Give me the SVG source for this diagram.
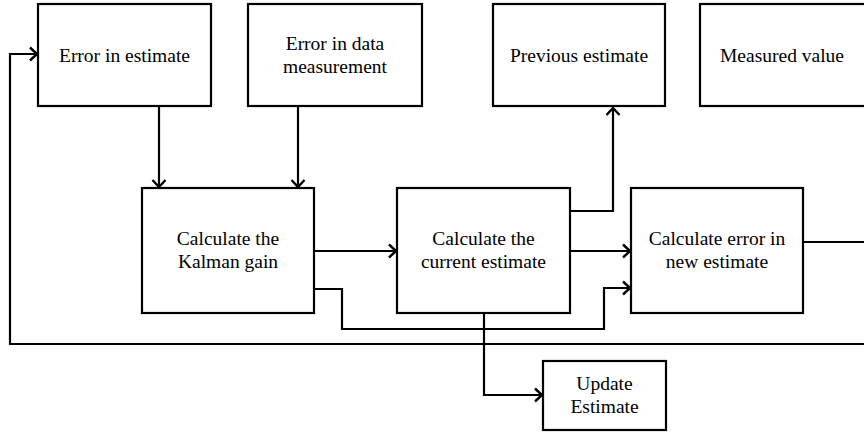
<svg xmlns="http://www.w3.org/2000/svg" width="864" height="435" viewBox="0 0 864 435">
<defs>
<style>
.box{fill:#fff;stroke:#000;stroke-width:2.2}
.t{font-size:19.5px;fill:#000;text-anchor:middle}
.c{fill:none;stroke:#000;stroke-width:2.2}
.a{marker-end:url(#arr)}
</style>
<marker id="arr" markerUnits="userSpaceOnUse" markerWidth="20" markerHeight="20" viewBox="-10 -10 20 20" refX="0" refY="0" orient="auto">
<path d="M-7,-6.5 L0,0 L-7,6.5" fill="none" stroke="#000" stroke-width="2.4"/>
</marker>
</defs>
<rect width="864" height="435" fill="#fff"/>
<g id="connectors">
<path class="c a" d="M159,106 V187"/>
<path class="c a" d="M298,106 V187"/>
<path class="c a" d="M314,251 H396"/>
<path class="c a" d="M314,289 H342 V329 H604 V288 H630"/>
<path class="c a" d="M570,211 H613 V108"/>
<path class="c a" d="M570,251 H630"/>
<path class="c" d="M803,242 H864"/>
<path class="c a" d="M864,344 H10 V54 H37"/>
<path class="c a" d="M484,313 V395 H542"/>
</g>
<g font-family="Liberation Serif">
<g id="n1"><rect class="box" x="38" y="4" width="173" height="102"/><text class="t" font-family="Liberation Serif" x="124.5" y="62">Error in estimate</text></g>
<g id="n2"><rect class="box" x="248" y="4" width="174" height="102"/><text class="t" font-family="Liberation Serif" x="335" y="50">Error in data</text><text class="t" font-family="Liberation Serif" x="335" y="73">measurement</text></g>
<g id="n3"><rect class="box" x="493" y="4" width="172" height="102"/><text class="t" font-family="Liberation Serif" x="579" y="62">Previous estimate</text></g>
<g id="n4"><rect class="box" x="700" y="4" width="180" height="102"/><text class="t" font-family="Liberation Serif" x="782" y="62">Measured value</text></g>
<g id="n5"><rect class="box" x="142" y="188" width="172" height="125"/><text class="t" font-family="Liberation Serif" x="228" y="245">Calculate the</text><text class="t" font-family="Liberation Serif" x="228" y="268">Kalman gain</text></g>
<g id="n6"><rect class="box" x="397" y="188" width="173" height="125"/><text class="t" font-family="Liberation Serif" x="483.5" y="245">Calculate the</text><text class="t" font-family="Liberation Serif" x="483.5" y="268">current estimate</text></g>
<g id="n7"><rect class="box" x="631" y="188" width="172" height="125"/><text class="t" font-family="Liberation Serif" x="717" y="245">Calculate error in</text><text class="t" font-family="Liberation Serif" x="717" y="268">new estimate</text></g>
<g id="n8"><rect class="box" x="543" y="361" width="123" height="69"/><text class="t" font-family="Liberation Serif" x="604.5" y="390">Update</text><text class="t" font-family="Liberation Serif" x="604.5" y="413">Estimate</text></g>
</g>
</svg>
